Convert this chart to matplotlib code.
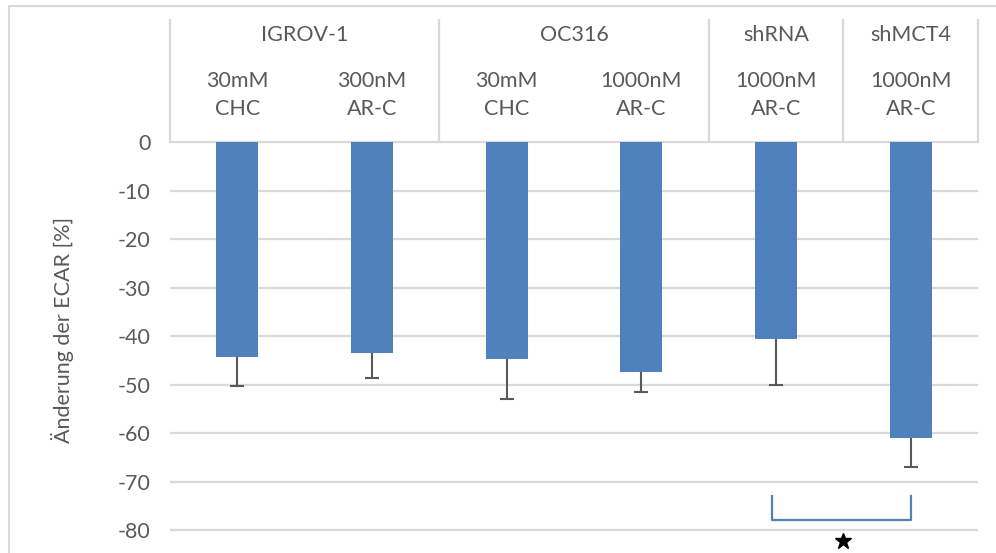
import matplotlib.pyplot as plt
from matplotlib.patches import Rectangle

plt.rcParams["font.family"] = ["Lato", "DejaVu Sans"]

# cell lines (header row), treatments (two-line labels) and ECAR change
groups = ["IGROV-1", "OC316", "shRNA", "shMCT4"]
group_spans = [(0, 1), (2, 3), (4, 4), (5, 5)]
treatments = ["30mM\nCHC", "300nM\nAR-C", "30mM\nCHC", "1000nM\nAR-C",
              "1000nM\nAR-C", "1000nM\nAR-C"]
ecar_change = [-44.3, -43.5, -44.7, -47.4, -40.6, -61.0]
ecar_sd = [6.0, 5.2, 8.3, 4.1, 9.4, 6.0]

BLUE = "#4f81bd"
GREY_TXT = "#595959"
GRID = "#d9d9d9"
FS = 15.5

W, H = 996, 553
fig = plt.figure(figsize=(W / 100, H / 100), dpi=100)

# outer chart border (runs off the right/bottom edge)
fig.patches.append(Rectangle((9 / W, -0.05), 1.2, 1 - 6 / H + 0.05,
                             transform=fig.transFigure, fill=False,
                             edgecolor=GRID, linewidth=1.5))

px_per_unit = (530 - 142) / 80
y_top = (142 - 20) / px_per_unit
y_bot = -85
ax_top = 142 - y_top * px_per_unit
ax_bottom = 142 - y_bot * px_per_unit
ax = fig.add_axes([170 / W, 1 - ax_bottom / H, (978 - 170) / W,
                   (ax_bottom - ax_top) / H])

x = list(range(len(ecar_change)))
ax.set_xlim(-0.5, len(ecar_change) - 0.5)
ax.set_ylim(y_bot, y_top)

ticks = list(range(-80, 1, 10))
for t in ticks:
    ax.axhline(t, color=GRID, linewidth=1.6, zorder=0)

ax.bar(x, ecar_change, width=0.31, color=BLUE, zorder=2)

# one-sided (downward) error bars with a cap only at the far end
err_end = [v - e for v, e in zip(ecar_change, ecar_sd)]
ax.vlines(x, ecar_change, err_end, color=GREY_TXT, linewidth=1.5, zorder=3)
ax.hlines(err_end, [i - 0.052 for i in x], [i + 0.052 for i in x],
          color=GREY_TXT, linewidth=1.5, zorder=3)

# header separators
for xs in [-0.5, 1.5, 3.5, 4.5, 5.5]:
    ax.plot([xs, xs], [0, y_top], color=GRID, linewidth=1.6, zorder=1,
            clip_on=False)

for name, (a, b) in zip(groups, group_spans):
    ax.text((a + b) / 2, (142 - 35) / px_per_unit, name, ha="center",
            va="center", fontsize=FS, color=GREY_TXT)
for i, lab in enumerate(treatments):
    ax.text(i, (142 - 95) / px_per_unit, lab, ha="center", va="center",
            fontsize=FS, color=GREY_TXT, linespacing=1.45)

# significance bracket between shRNA and shMCT4
ax.plot([3.97, 3.97, 5.0, 5.0], [-73, -78, -78, -73], color=BLUE,
        linewidth=1.6, zorder=3, solid_joinstyle="round")
ax.plot([4.5], [-82.2], marker="*", color="black", markersize=12,
        clip_on=False, zorder=4)

ax.set_yticks(ticks)
ax.set_yticklabels([str(t) for t in ticks], fontsize=FS, color=GREY_TXT)
ax.tick_params(axis="y", length=0, pad=14)
ax.set_xticks([])
for s in ax.spines.values():
    s.set_visible(False)

fig.text(62 / W, 1 - 330 / H, "Änderung der ECAR [%]", rotation=90,
         ha="center", va="center", fontsize=FS, color=GREY_TXT)

fig.savefig("out.png", dpi=100)
